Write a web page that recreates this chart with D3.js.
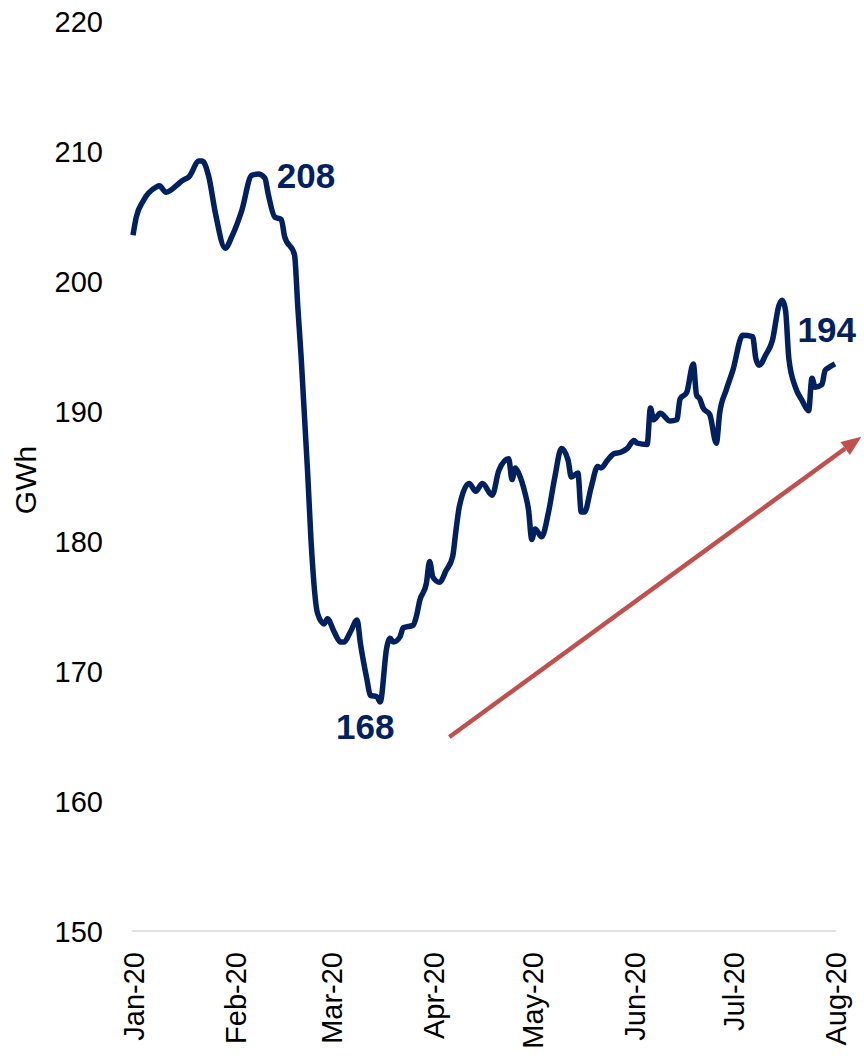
<!DOCTYPE html>
<html>
<head>
<meta charset="utf-8">
<script src="https://cdn.jsdelivr.net/npm/d3@7"></script>
<style>
  html, body { margin: 0; padding: 0; background: #fff; }
  svg { display: block; font-family: "Liberation Sans", Arial, sans-serif; }
</style>
</head>
<body>
<svg id="chart" width="864" height="1056"></svg>
<script>
// ---- Data ----
const dates = [
  "2020-01-01","2020-01-02","2020-01-04","2020-01-08","2020-01-09","2020-01-11","2020-01-15","2020-01-16",
  "2020-01-18","2020-01-21","2020-01-22","2020-01-24","2020-01-26","2020-01-29","2020-01-31","2020-02-03",
  "2020-02-06","2020-02-08","2020-02-10","2020-02-11","2020-02-13","2020-02-15","2020-02-16","2020-02-19",
  "2020-02-20","2020-02-21","2020-02-23","2020-02-24","2020-02-26","2020-02-28","2020-02-29","2020-03-02",
  "2020-03-04","2020-03-05","2020-03-07","2020-03-09","2020-03-10","2020-03-12","2020-03-13","2020-03-15",
  "2020-03-16","2020-03-18","2020-03-19","2020-03-20","2020-03-22","2020-03-23","2020-03-26","2020-03-27",
  "2020-03-28","2020-03-30","2020-03-31","2020-04-01","2020-04-03","2020-04-05","2020-04-07","2020-04-08",
  "2020-04-09","2020-04-12","2020-04-14","2020-04-16","2020-04-19","2020-04-21","2020-04-24","2020-04-25",
  "2020-04-26","2020-04-27","2020-04-29","2020-04-30","2020-05-01","2020-05-02","2020-05-04","2020-05-06",
  "2020-05-08","2020-05-10","2020-05-12","2020-05-13","2020-05-15","2020-05-16","2020-05-17","2020-05-19",
  "2020-05-21","2020-05-22","2020-05-24","2020-05-26","2020-05-28","2020-05-30","2020-06-01","2020-06-02",
  "2020-06-05","2020-06-06","2020-06-07","2020-06-09","2020-06-12","2020-06-14","2020-06-15","2020-06-17",
  "2020-06-19","2020-06-20","2020-06-21","2020-06-22","2020-06-24","2020-06-26","2020-06-27","2020-06-29",
  "2020-07-01","2020-07-04","2020-07-07","2020-07-08","2020-07-09","2020-07-11","2020-07-13","2020-07-15",
  "2020-07-16","2020-07-17","2020-07-18","2020-07-20","2020-07-22","2020-07-24","2020-07-25","2020-07-26",
  "2020-07-28","2020-07-29","2020-07-30","2020-08-01"
];
const demandGWh = [
  203.6,205.0,206.2,207.3,207.4,206.9,207.6,207.8,
  208.1,209.3,209.3,208.1,205.3,202.6,203.5,205.5,
  208.2,208.3,208.0,206.8,205.0,204.8,203.5,202.1,
  198.1,194.3,185.3,180.2,174.5,173.7,174.1,173.1,
  172.3,172.3,173.1,174.0,172.2,169.4,168.2,168.1,
  167.7,171.9,172.6,172.3,172.7,173.4,173.6,174.3,
  175.5,176.8,178.5,177.3,176.9,177.8,178.9,180.9,
  182.7,184.5,183.9,184.5,183.6,185.5,186.4,184.8,
  185.7,185.3,183.7,182.5,180.2,181.0,180.4,182.2,
  185.0,187.2,186.3,185.0,185.3,182.3,182.3,184.2,
  185.8,185.7,186.3,186.8,186.9,187.2,187.8,187.6,
  187.5,190.3,189.4,189.9,189.3,189.4,191.0,191.5,
  193.7,191.3,191.0,190.3,189.8,187.6,189.9,191.7,
  193.2,195.9,195.8,194.1,193.6,194.4,195.5,198.2,
  198.6,197.8,194.1,191.9,190.9,190.1,192.6,191.9,
  192.1,193.2,193.4,193.7
];
const yTicks = [150, 160, 170, 180, 190, 200, 210, 220];
const xTickMonths = ["2020-01-01","2020-02-01","2020-03-01","2020-04-01","2020-05-01","2020-06-01","2020-07-01","2020-08-01"];
const yAxisTitle = "GWh";
// callouts: [date of anchor point, value, text]
const callouts = [
  { date: "2020-02-10", value: 208.0, text: "208" },
  { date: "2020-03-16", value: 167.7, text: "168" },
  { date: "2020-07-17", value: 197.8, text: "194" }
];
// trend arrow endpoints
const arrowDates = ["2020-04-06", "2020-08-09"];
const arrowValues = [165.0, 188.1];

// ---- Layout ----
const plot = { left: 133, right: 835, top: 22, bottom: 932 };
const parse = d3.timeParse("%Y-%m-%d");
const data = dates.map((d, i) => ({ date: parse(d), value: demandGWh[i] }));

const x = d3.scaleTime()
  .domain([parse("2020-01-01"), parse("2020-08-01")])
  .range([plot.left, plot.right]);
const y = d3.scaleLinear()
  .domain([150, 220])
  .range([plot.bottom, plot.top]);

const svg = d3.select("#chart");
const navy = "#002060";

// Y axis
const yAxis = svg.append("g")
  .attr("transform", `translate(${plot.left - 1},0)`)
  .call(d3.axisLeft(y).tickValues(yTicks).tickSize(0).tickPadding(29).tickFormat(d3.format("d")));
yAxis.select(".domain").remove();
yAxis.selectAll("text")
  .attr("font-size", 29).attr("fill", "#000")
  .attr("font-family", "Liberation Sans, Arial, sans-serif");

// Y title
svg.append("text")
  .attr("transform", `translate(25,${(plot.top + plot.bottom) / 2 + 3}) rotate(-90)`)
  .attr("text-anchor", "middle")
  .attr("dy", "0.35em")
  .attr("font-size", 30)
  .attr("fill", "#000")
  .text(yAxisTitle);

// X axis
const xAxis = svg.append("g")
  .attr("transform", `translate(0,${plot.bottom - 1})`)
  .call(d3.axisBottom(x).tickValues(xTickMonths.map(parse)).tickSize(0).tickFormat(d3.timeFormat("%b-%y")));
xAxis.select(".domain")
  .attr("stroke", "#d9d9d9").attr("stroke-width", 1.5)
  .attr("d", `M${plot.left - 1},0H${plot.right + 1}`);
xAxis.selectAll("text")
  .attr("font-size", 29).attr("fill", "#000")
  .attr("font-family", "Liberation Sans, Arial, sans-serif")
  .attr("text-anchor", "end")
  .attr("transform", "rotate(-90)")
  .attr("x", -21)
  .attr("y", 0)
  .attr("dy", "0.36em");

// Line
const line = d3.line()
  .x(d => x(d.date))
  .y(d => y(d.value))
  .curve(d3.curveMonotoneX);
svg.append("path")
  .datum(data)
  .attr("fill", "none")
  .attr("stroke", navy)
  .attr("stroke-width", 5.5)
  .attr("stroke-linejoin", "round")
  .attr("stroke-linecap", "butt")
  .attr("d", line);

// Callouts
const offsets = [
  { dx: 12, dy: 10, anchor: "start" },
  { dx: -15, dy: 37, anchor: "middle" },
  { dx: 12, dy: 31, anchor: "start" }
];
callouts.forEach((c, i) => {
  svg.append("text")
    .attr("x", x(parse(c.date)) + offsets[i].dx)
    .attr("y", y(c.value) + offsets[i].dy)
    .attr("text-anchor", offsets[i].anchor)
    .attr("font-size", 35)
    .attr("font-weight", "bold")
    .attr("fill", navy)
    .text(c.text);
});

// Trend arrow
const red = "#C0504D";
const x0 = x(parse(arrowDates[0])), y0 = y(arrowValues[0]);
const x1 = x(parse(arrowDates[1])), y1 = y(arrowValues[1]);
const ang = Math.atan2(y1 - y0, x1 - x0);
const headLen = 20, headHalf = 8;
const bx = x1 - headLen * Math.cos(ang), by = y1 - headLen * Math.sin(ang);
svg.append("line")
  .attr("x1", x0).attr("y1", y0).attr("x2", bx).attr("y2", by)
  .attr("stroke", red).attr("stroke-width", 4.5);
svg.append("path")
  .attr("d", `M${x1},${y1}L${bx - headHalf * Math.sin(ang)},${by + headHalf * Math.cos(ang)}L${bx + headHalf * Math.sin(ang)},${by - headHalf * Math.cos(ang)}Z`)
  .attr("fill", red);
</script>
</body>
</html>
